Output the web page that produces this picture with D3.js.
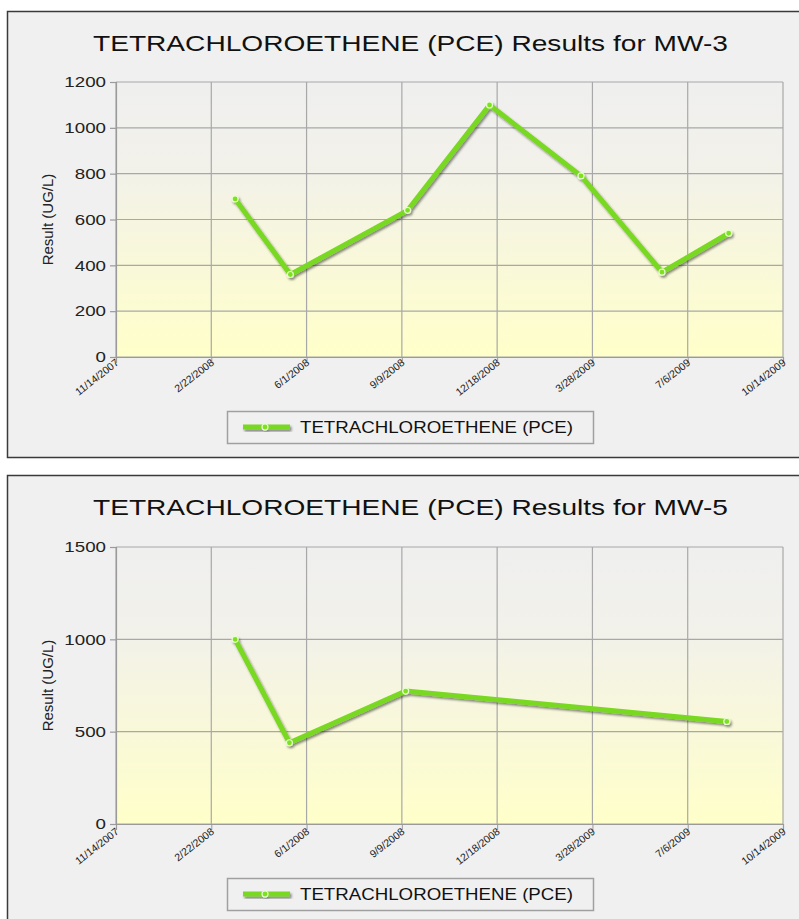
<!DOCTYPE html>
<html>
<head>
<meta charset="utf-8">
<script src="https://d3js.org/d3.v7.min.js"></script>
<style>
  body { margin: 0; background: #fff; }
  svg { display: block; font-family: "Liberation Sans", Arial, sans-serif; }
</style>
</head>
<body>
<svg width="799" height="919"></svg>

<script>

// sample dates and results
var mw3Dates = ["3/18/2008", "5/15/2008", "9/15/2008", "12/10/2008", "3/16/2009", "6/9/2009", "8/18/2009"];
var mw3Values = [690, 360, 640, 1100, 790, 370, 540];

var mw5Dates = ["3/18/2008", "5/14/2008", "9/13/2008", "8/16/2009"];
var mw5Values = [1000, 440, 720, 555];

var xTickLabels = ["11/14/2007", "2/22/2008", "6/1/2008", "9/9/2008", "12/18/2008", "3/28/2009", "7/6/2009", "10/14/2009"];
var mw3YTicks = [0, 200, 400, 600, 800, 1000, 1200];
var mw5YTicks = [0, 500, 1000, 1500];

var seriesName = "TETRACHLOROETHENE (PCE)";

var parse = d3.utcParse("%m/%d/%Y");
var svg = d3.select("svg");

// gradient for plot area + line shadow
var defs = svg.append("defs");
var grad = defs.append("linearGradient").attr("id", "plotBg")
    .attr("x1", 0).attr("y1", 0).attr("x2", 0).attr("y2", 1);
grad.append("stop").attr("offset", "0").attr("stop-color", "#efefef");
grad.append("stop").attr("offset", "0.3").attr("stop-color", "#f2f1ea");
grad.append("stop").attr("offset", "1").attr("stop-color", "#ffffca");

var shadow = defs.append("filter").attr("id", "shadow")
    .attr("x", "-10%").attr("y", "-10%").attr("width", "130%").attr("height", "130%");
shadow.append("feDropShadow").attr("dx", 1.5).attr("dy", 2).attr("stdDeviation", 1.2)
    .attr("flood-color", "#000").attr("flood-opacity", 0.45);

var left = 116, right = 783;

function drawChart(cfg) {
    var top = cfg.top;

    // frame
    svg.append("rect")
        .attr("x", 7.5).attr("y", top + 0.5)
        .attr("width", 800).attr("height", cfg.frameH)
        .attr("fill", "#f0f0f0")
        .attr("stroke", "#3a3a3a").attr("stroke-width", 1.5);

    // title
    svg.append("text")
        .attr("x", 93).attr("y", top + 40)
        .attr("textLength", 635).attr("lengthAdjust", "spacingAndGlyphs")
        .style("font-size", "22px").attr("fill", "#111")
        .text("TETRACHLOROETHENE (PCE) Results for " + cfg.well);

    var x = d3.scaleUtc()
        .domain([parse(xTickLabels[0]), parse(xTickLabels[xTickLabels.length - 1])])
        .range([left, right]);
    var y = d3.scaleLinear()
        .domain([0, cfg.yTicks[cfg.yTicks.length - 1]])
        .range([cfg.plotBottom, cfg.plotTop]);

    svg.append("rect")
        .attr("x", left).attr("y", cfg.plotTop)
        .attr("width", right - left).attr("height", cfg.plotBottom - cfg.plotTop)
        .attr("fill", "url(#plotBg)");

    var tickDates = xTickLabels.map(parse);

    // grid
    svg.append("g").selectAll("line").data(cfg.yTicks).enter().append("line")
        .attr("x1", left).attr("x2", right)
        .attr("y1", function (d) { return y(d); }).attr("y2", function (d) { return y(d); })
        .attr("stroke", "#a8a8a8").attr("stroke-width", 1.2);
    svg.append("g").selectAll("line").data(tickDates).enter().append("line")
        .attr("x1", function (d) { return x(d); }).attr("x2", function (d) { return x(d); })
        .attr("y1", cfg.plotTop).attr("y2", cfg.plotBottom)
        .attr("stroke", "#a8a8a8").attr("stroke-width", 1.2);

    // axes
    var yAxis = svg.append("g")
        .attr("transform", "translate(" + left + ",0)")
        .call(d3.axisLeft(y).tickValues(cfg.yTicks).tickSize(6).tickFormat(d3.format("d")));
    yAxis.selectAll("path, line").attr("stroke", "#9a9a9a").attr("stroke-width", 1.2);
    yAxis.selectAll("text")
        .attr("x", -8)
        .attr("transform", "scale(1.25,1)")
        .style("font-size", "15px").attr("fill", "#222");

    var xAxis = svg.append("g")
        .attr("transform", "translate(0," + cfg.plotBottom + ")")
        .call(d3.axisBottom(x).tickValues(tickDates).tickSize(6)
            .tickFormat(function (d, i) { return xTickLabels[i]; }));
    xAxis.select(".domain").attr("stroke", "#9a9a9a").attr("stroke-width", 1.2);
    xAxis.selectAll(".tick line").attr("stroke", "#9a9a9a");
    xAxis.selectAll("text")
        .attr("x", 0).attr("y", 0).attr("dy", 0)
        .attr("text-anchor", "end")
        .attr("transform", "translate(3," + cfg.labelDrop + ")rotate(-38)")
        .style("font-size", "10.5px").attr("fill", "#222");

    // y label
    svg.append("text")
        .attr("text-anchor", "middle")
        .attr("transform", "translate(53," + (cfg.plotTop + cfg.plotBottom) / 2 + ")rotate(-90)")
        .style("font-size", "15px").attr("fill", "#222")
        .text("Result (UG/L)");

    // series
    var pts = cfg.dates.map(function (d, i) { return [parse(d), cfg.values[i]]; });
    var line = d3.line()
        .x(function (d) { return x(d[0]); })
        .y(function (d) { return y(d[1]); });

    var series = svg.append("g").attr("filter", "url(#shadow)");
    series.append("path")
        .datum(pts)
        .attr("d", line)
        .style("fill", "none")
        .style("stroke", "#78d820")
        .style("stroke-width", "5")
        .style("stroke-linejoin", "round")
        .style("stroke-linecap", "round");
    series.selectAll("circle").data(pts).enter().append("circle")
        .attr("cx", function (d) { return x(d[0]); })
        .attr("cy", function (d) { return y(d[1]); })
        .attr("r", 3)
        .attr("fill", "#7fe020")
        .attr("stroke", "#e6ffd0").attr("stroke-width", 1.2);

    // legend
    var lg = svg.append("g").attr("transform", "translate(227," + cfg.legendTop + ")");
    lg.append("rect")
        .attr("x", 0.5).attr("y", 0.5).attr("width", 366).attr("height", 32)
        .attr("fill", "#f0f0f0").attr("stroke", "#a0a0a0").attr("stroke-width", 1.5);
    var key = lg.append("g").attr("filter", "url(#shadow)");
    key.append("line")
        .attr("x1", 16).attr("x2", 63).attr("y1", 16).attr("y2", 16)
        .attr("stroke", "#78d820").attr("stroke-width", 5);
    key.append("circle")
        .attr("cx", 38).attr("cy", 16).attr("r", 3)
        .attr("fill", "#7fe020").attr("stroke", "#e6ffd0").attr("stroke-width", 1.2);
    lg.append("text")
        .attr("x", 73).attr("y", 22)
        .attr("textLength", 273).attr("lengthAdjust", "spacingAndGlyphs")
        .style("font-size", "16px").attr("fill", "#111")
        .text(seriesName);
}

drawChart({ well: "MW-3", top: 11, frameH: 446, plotTop: 82, plotBottom: 357,
            legendTop: 411, labelDrop: 7, yTicks: mw3YTicks, dates: mw3Dates, values: mw3Values });

drawChart({ well: "MW-5", top: 475, frameH: 460, plotTop: 547, plotBottom: 824,
            legendTop: 878, labelDrop: 9, yTicks: mw5YTicks, dates: mw5Dates, values: mw5Values });

</script>
</body>
</html>
